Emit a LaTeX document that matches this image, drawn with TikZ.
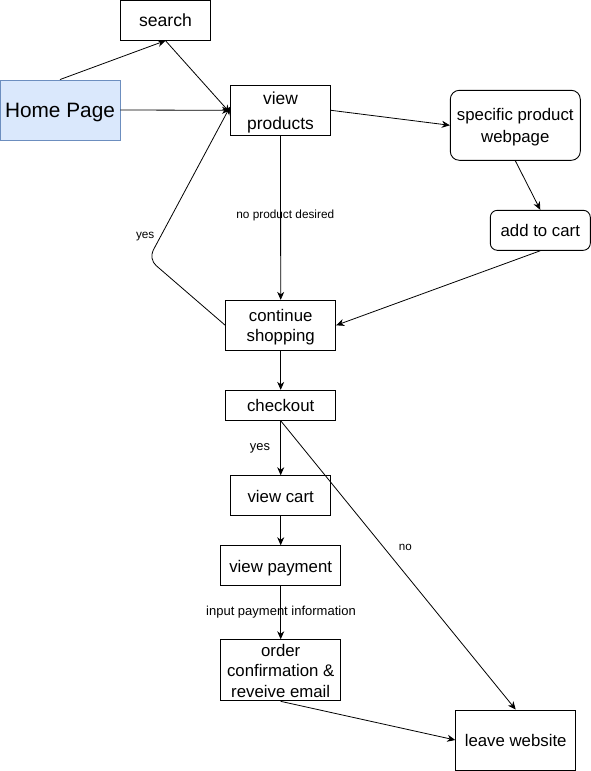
\documentclass[tikz,border=0pt]{standalone}
\usepackage{fontspec}
\setmainfont{Liberation Sans}
\usetikzlibrary{arrows.meta}
\definecolor{homefill}{RGB}{218,232,252}
\definecolor{homedraw}{RGB}{108,142,191}
\newcommand\lnst{\rule[-0.22em]{0pt}{1.2em}}
\tikzset{
  box/.style={draw, line width=0.9pt, align=center, inner sep=0pt,
    font=\fontsize{16.8}{20.5}\selectfont},
  rbox/.style={box, rounded corners=9pt},
  conn/.style={line width=0.8pt, -{Stealth[length=8pt,width=7pt,inset=2.5pt]}},
  lbl/.style={font=\fontsize{12}{14}\selectfont, inner sep=0pt, anchor=base}
}
\begin{document}
\begin{tikzpicture}[x=1pt,y=-1pt]
\useasboundingbox (0,0) rectangle (591,771);
% nodes
\node[box, minimum width=90pt, minimum height=40pt, font=\fontsize{17.6}{21}\selectfont] (search) at (165.5,20.2) {\lnst search};
\node[box, draw=homedraw, fill=homefill, minimum width=120pt, minimum height=60pt,
  font=\fontsize{20.8}{24}\selectfont] (home) at (60,110) {\rule[-0.26em]{0pt}{1.2em}Home Page};
\node[box, minimum width=100pt, minimum height=50pt, font=\fontsize{17.4}{24.5}\selectfont] (vp) at (280.5,110.3) {\lnst view\\\lnst products};
\node[rbox, minimum width=130pt, minimum height=70pt, font=\fontsize{16.8}{22.5}\selectfont] (spec) at (515.3,125.3) {\lnst specific product\\\lnst webpage};
\node[rbox, rounded corners=7pt, minimum width=100pt, minimum height=40pt] (cart) at (540.3,230.3) {\lnst add to cart};
\node[box, minimum width=110pt, minimum height=50pt] (cs) at (280.7,325.3) {\lnst continue\\\lnst shopping};
\node[box, minimum width=110pt, minimum height=30pt] (chk) at (280.7,405.3) {\lnst checkout};
\node[box, minimum width=100pt, minimum height=40pt] (vc) at (280.7,495.7) {\lnst view cart};
\node[box, minimum width=120pt, minimum height=40pt] (vpay) at (280.7,565.7) {\lnst view payment};
\node[box, minimum width=120pt, minimum height=60pt] (oc) at (280.7,670.3) {\lnst order\\\lnst confirmation \&\\\lnst reveive email};
\node[box, minimum width=120pt, minimum height=60pt] (leave) at (515.7,740) {\lnst leave website};
% connectors
\draw[conn] (home.north) -- (search.south);
\draw[conn] (search.south) -- ([yshift=-2.5pt]vp.west);
\draw[conn] (home.east) -- (vp.west);
\coordinate (bend) at (148.5,259);
\draw[conn, rounded corners=10pt] (cs.west) -- (bend) -- ([yshift=3.5pt]vp.west);
\node[lbl, font=\fontsize{11.8}{14}\selectfont] (lyes1) at (145.2,238.3) {yes};
\draw[conn] (vp.east) -- (spec.west);
\draw[conn] (spec.south) -- (cart.north);
\draw[conn] (cart.south) -- (cs.east);
\draw[conn] (vp.south) -- (cs.north);
\node[lbl, font=\fontsize{11.8}{14}\selectfont] (lnp) at (285.3,218.3) {no product desired};
\draw[conn] (cs.south) -- (chk.north);
\draw[conn] (chk.south) -- (vc.north);
\node[lbl, font=\fontsize{12.9}{15}\selectfont] (lyes2) at (260,450) {yes};
\draw[conn] (chk.south) -- (leave.north);
\node[lbl, font=\fontsize{11.6}{14}\selectfont] (lno) at (405.3,550.5) {no};
\draw[conn] (vc.south) -- (vpay.north);
\draw[conn] (vpay.south) -- (oc.north);
\node[lbl, font=\fontsize{13}{15}\selectfont] (lpay) at (281,615) {input payment information};
\draw[conn] (oc.south) -- (leave.west);
\end{tikzpicture}
\end{document}
